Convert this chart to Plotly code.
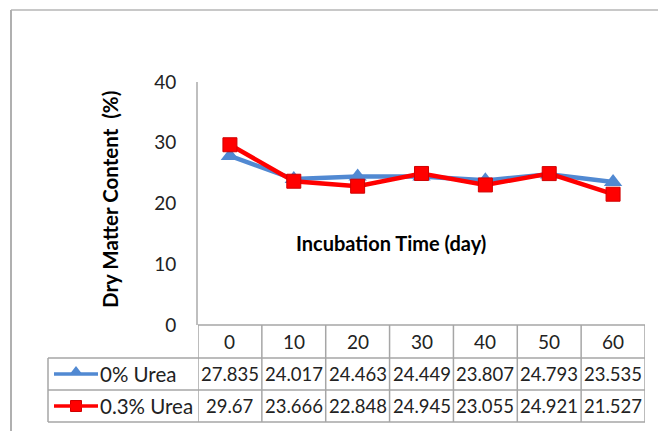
import plotly.graph_objects as go

# Data
days = ["0", "10", "20", "30", "40", "50", "60"]
urea_0 = [27.835, 24.017, 24.463, 24.449, 23.807, 24.793, 23.535]
urea_03 = [29.67, 23.666, 22.848, 24.945, 23.055, 24.921, 21.527]
urea_0_labels = ["27.835", "24.017", "24.463", "24.449", "23.807", "24.793", "23.535"]
urea_03_labels = ["29.67", "23.666", "22.848", "24.945", "23.055", "24.921", "21.527"]
series_names = ["0% Urea", "0.3% Urea"]
y_ticks = [0, 10, 20, 30, 40]

W, H = 658, 431
L, R, T, B = 198, 645, 82, 325  # plot area in pixels
FONT = "Lato"
BLUE = "#5189D2"
RED = "#FF0000"
GRID = "#A6A6A6"
TXT = "#222222"


def px(x):
    return x / W


def py(y):
    return 1 - y / H


def dx(i):
    # data-column centre in paper units
    return px(L + (i + 0.5) * (R - L) / len(days))


fig = go.Figure()
fig.add_trace(go.Scatter(
    x=list(range(len(days))), y=urea_0, mode="lines+markers", name=series_names[0],
    line=dict(color=BLUE, width=4.5),
    marker=dict(symbol="triangle-up", size=16, color=BLUE, line=dict(width=0)),
))
fig.add_trace(go.Scatter(
    x=list(range(len(days))), y=urea_03, mode="lines+markers", name=series_names[1],
    line=dict(color=RED, width=4.5),
    marker=dict(symbol="square", size=14, color=RED, line=dict(color="#D00000", width=1)),
))

shapes = []
ann = []

# Outer chart border (runs past the visible page)
shapes.append(dict(type="line", xref="paper", yref="paper", x0=px(11), x1=px(700),
                   y0=py(10), y1=py(10), line=dict(color="#C8C8C8", width=2)))
shapes.append(dict(type="line", xref="paper", yref="paper", x0=px(11), x1=px(11),
                   y0=py(10), y1=py(460), line=dict(color="#B0B0B0", width=2)))

# Data table grid
for yline in (358, 390, 422):
    shapes.append(dict(type="line", xref="paper", yref="paper", x0=px(48), x1=px(R),
                       y0=py(yline), y1=py(yline), line=dict(color=GRID, width=1.5)))
shapes.append(dict(type="line", xref="paper", yref="paper", x0=px(L), x1=px(R),
                   y0=py(B), y1=py(B), line=dict(color=GRID, width=1.5)))
for k in range(len(days) + 1):
    shapes.append(dict(type="line", xref="x", yref="paper", x0=k - 0.5, x1=k - 0.5,
                       y0=py(B), y1=py(422), line=dict(color=GRID, width=1.5)))
shapes.append(dict(type="line", xref="paper", yref="paper", x0=px(48), x1=px(48),
                   y0=py(358), y1=py(422), line=dict(color=GRID, width=1.5)))


def cell(x, y, text, size, xanchor="center"):
    ann.append(dict(x=x, y=y, xref="paper", yref="paper", text=text, showarrow=False,
                    xanchor=xanchor, yanchor="middle",
                    font=dict(family=FONT, size=size, color=TXT)))


# Header row and values
for i, d in enumerate(days):
    cell(dx(i), py(341.5), d, 19)
    cell(dx(i), py(374), urea_0_labels[i], 18.5)
    cell(dx(i), py(406), urea_03_labels[i], 18.5)

# Legend keys inside the table
for (yc, col, name) in [(374, BLUE, series_names[0]), (406, RED, series_names[1])]:
    shapes.append(dict(type="line", xref="paper", yref="paper", x0=px(54), x1=px(98),
                       y0=py(yc), y1=py(yc), line=dict(color=col, width=3.5)))
    cell(px(98), py(yc), name, 20.5, xanchor="left")

# Legend key markers on a full-page overlay axis (pixel units)
fig.add_trace(go.Scatter(
    x=[76], y=[372], xaxis="x2", yaxis="y2", mode="markers",
    marker=dict(symbol="triangle-up", size=12, color=BLUE), showlegend=False, hoverinfo="skip"))
fig.add_trace(go.Scatter(
    x=[76], y=[406], xaxis="x2", yaxis="y2", mode="markers",
    marker=dict(symbol="square", size=11, color=RED, line=dict(color="#D00000", width=1)),
    showlegend=False, hoverinfo="skip"))

# Axis titles
ann.append(dict(x=px(391), y=py(243), xref="paper", yref="paper",
                xanchor="center", yanchor="middle",
                text="<b>Incubation Time (day)</b>", showarrow=False,
                font=dict(family=FONT, size=20, color="#000000")))
ann.append(dict(x=px(110), y=py(200), xref="paper", yref="paper",
                xanchor="center", yanchor="middle",
                text="<b>Dry Matter Content  (%)</b>", showarrow=False, textangle=-90,
                font=dict(family=FONT, size=20.5, color="#000000")))

fig.update_layout(
    width=W, height=H,
    margin=dict(l=0, r=0, t=0, b=0, pad=0),
    paper_bgcolor="white", plot_bgcolor="rgba(0,0,0,0)",
    showlegend=False,
    shapes=shapes, annotations=ann,
    xaxis=dict(domain=[px(L), px(R)], range=[-0.5, len(days) - 0.5],
               showticklabels=False, showgrid=False,
               zeroline=False, showline=False, ticks="", automargin=False),
    yaxis=dict(domain=[py(B), py(T)], range=[0, 40], tickvals=y_ticks,
               showgrid=False, zeroline=False,
               showline=True, linecolor="#BFBFBF", linewidth=2, ticks="",
               ticklabelstandoff=16, automargin=False,
               tickfont=dict(family=FONT, size=19, color=TXT)),
    xaxis2=dict(domain=[0, 1], range=[0, W], anchor="y2", visible=False),
    yaxis2=dict(domain=[0, 1], range=[H, 0], anchor="x2", visible=False),
)

fig.write_html("out.html")
